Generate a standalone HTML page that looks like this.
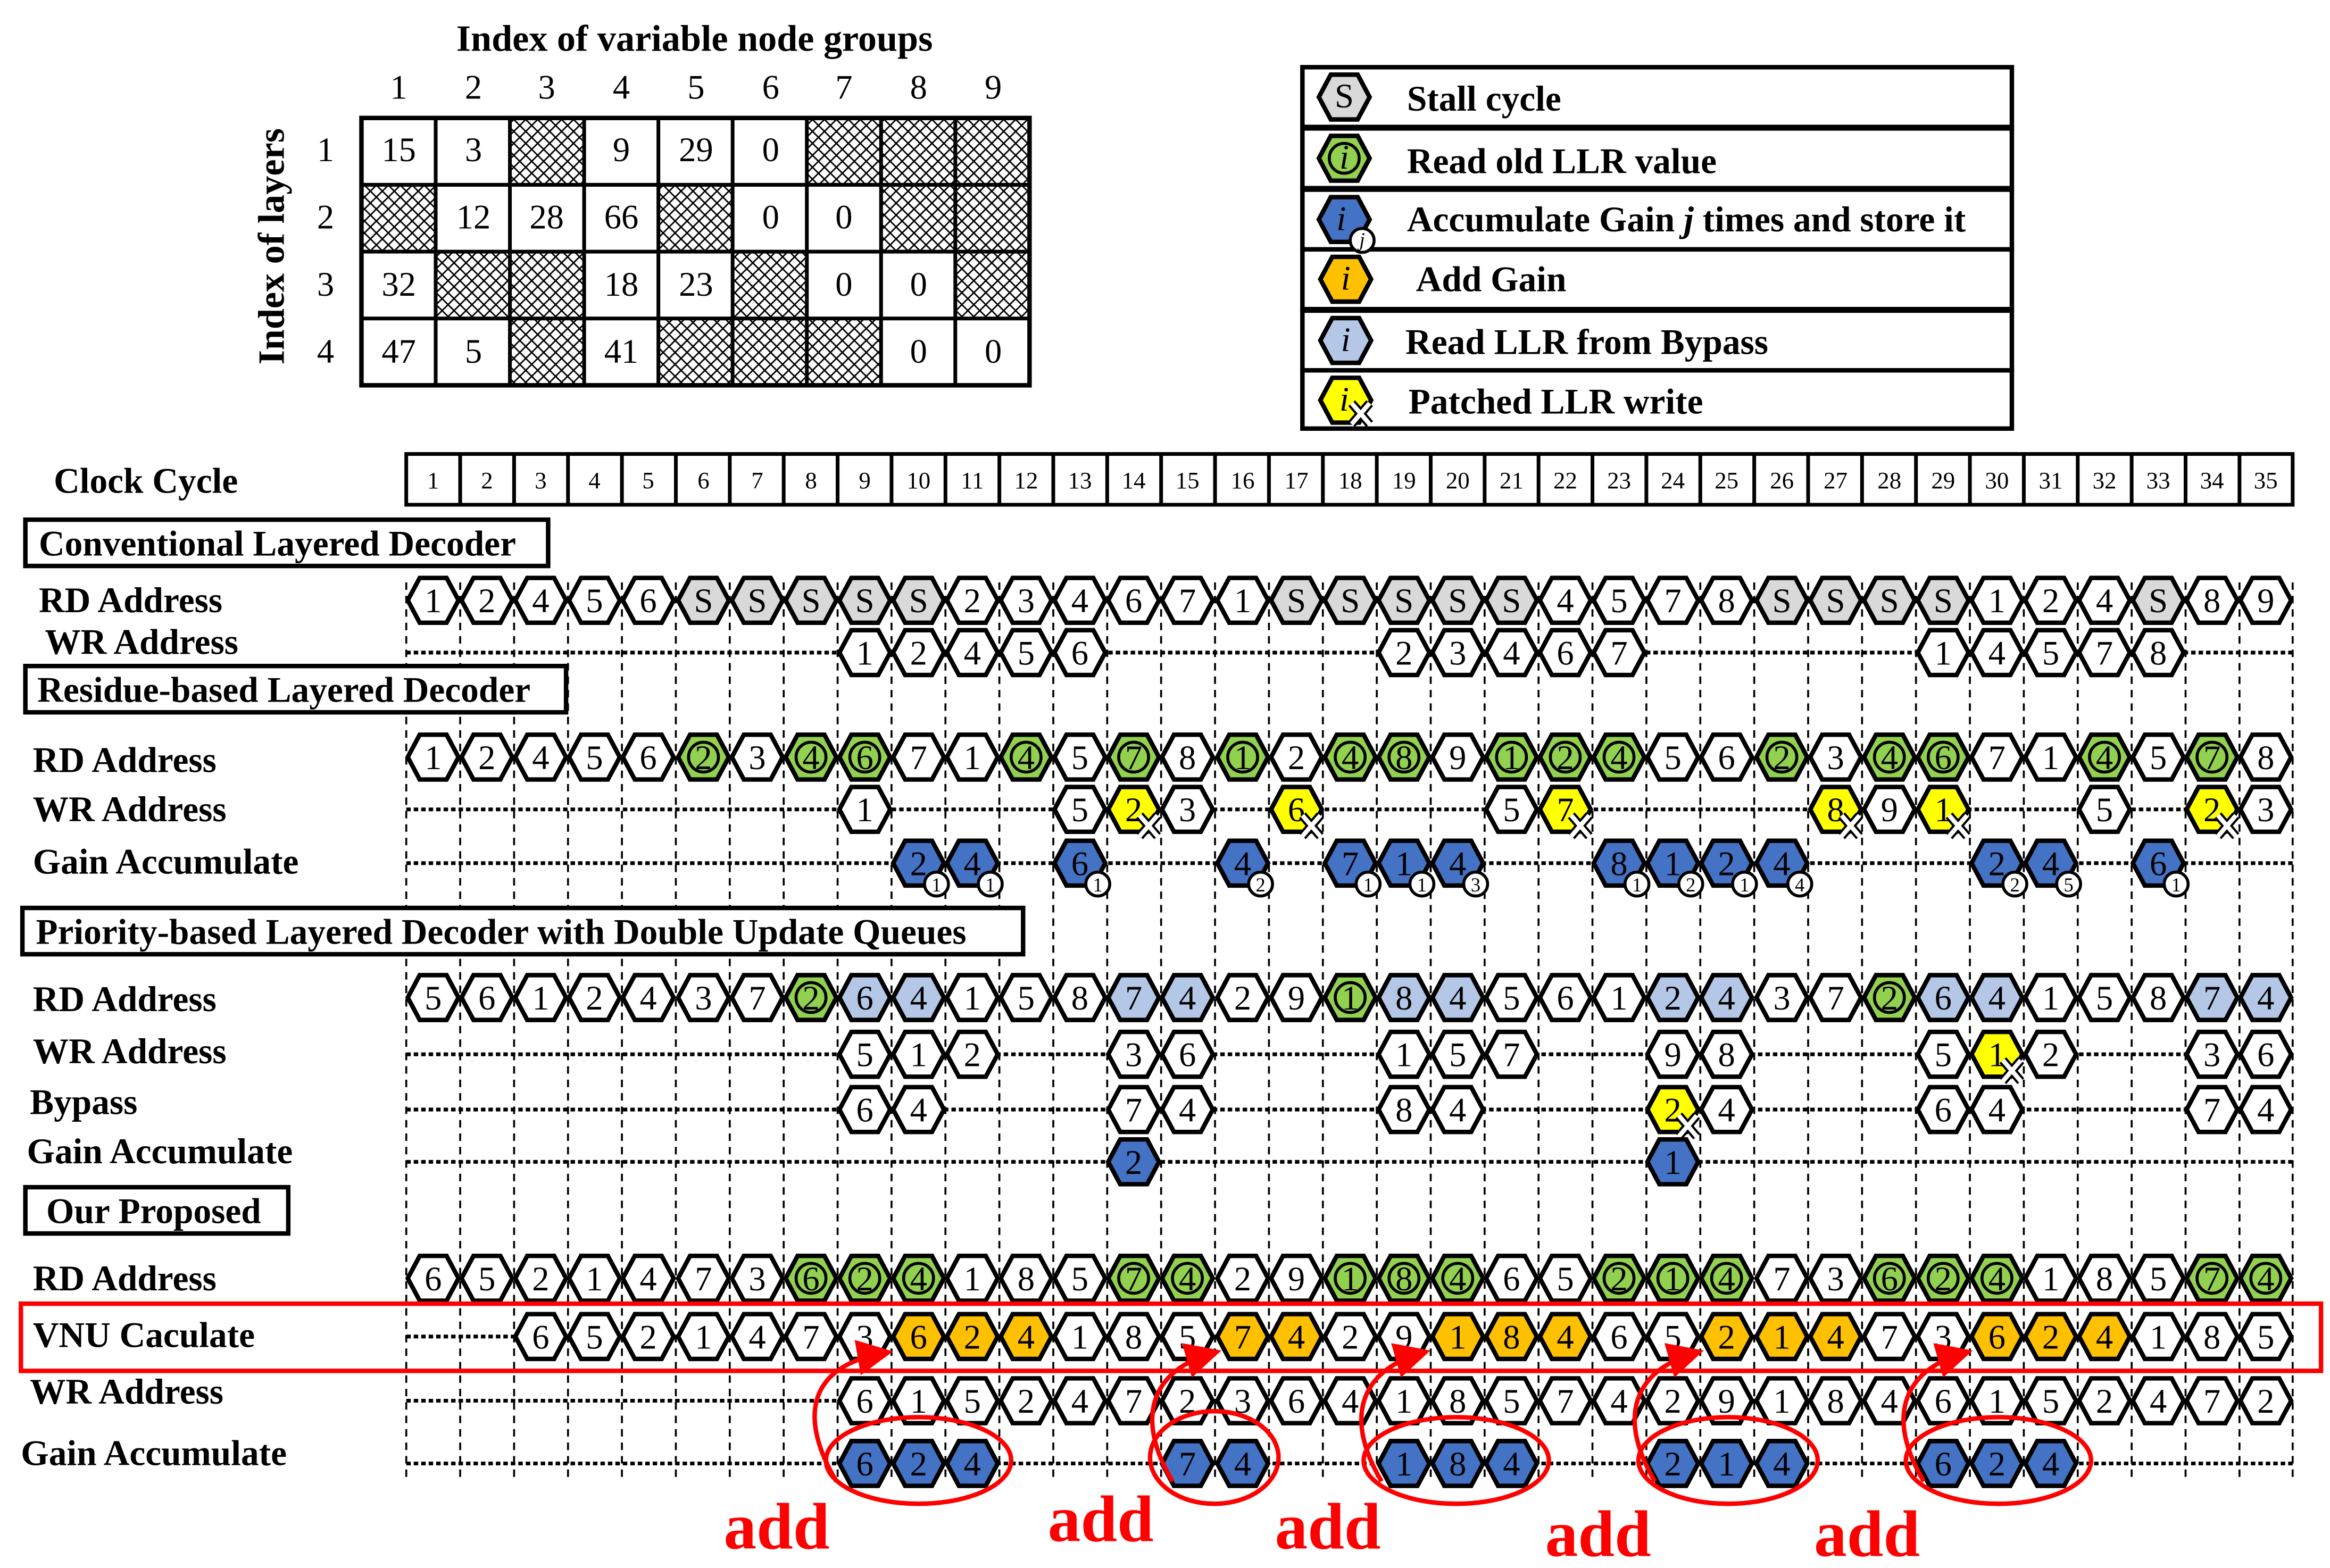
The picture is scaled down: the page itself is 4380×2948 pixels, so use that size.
<!DOCTYPE html>
<html><head><meta charset="utf-8"><style>
html,body{margin:0;padding:0;background:#fff}
svg{display:block}
.w{fill:#fff}.s{fill:#d9d9d9}.g{fill:#92d050}.b{fill:#4472c4}.o{fill:#ffc000}.l{fill:#b4c7e7}.y{fill:#ffff00}
text{font-family:"Liberation Serif",serif}
.n{font-size:23px;text-anchor:middle}
.lb{font-size:24px;font-weight:bold}
.sub{font-size:13px;text-anchor:middle}
</style></head><body>
<svg width="4380" height="2948" viewBox="0 0 1560 1050" preserveAspectRatio="none" xmlns="http://www.w3.org/2000/svg">
<defs>
<path id="hx" d="M-17,0 L-9,-15 L9,-15 L17,0 L9,15 L-9,15Z" stroke="#000" stroke-width="3"/>
<circle id="gc" cx="0" cy="0" r="10" fill="none" stroke="#000" stroke-width="2"/>
<circle id="sc" cx="12" cy="14" r="8" fill="#fff" stroke="#000" stroke-width="2"/>
<g id="px"><path d="M4,6 L16,20 M16,6 L4,20" stroke="#000" stroke-width="6"/><path d="M4,6 L16,20 M16,6 L4,20" stroke="#fff" stroke-width="3"/></g>
<pattern id="hatch" width="8" height="8" patternUnits="userSpaceOnUse"><rect width="8" height="8" fill="#fff"/><path d="M0,0 L8,8 M8,0 L0,8" stroke="#000" stroke-width="1"/></pattern>
<marker id="ar" markerWidth="8" markerHeight="8" refX="6" refY="4" orient="auto" markerUnits="strokeWidth"><path d="M0,0 L8,4 L0,8 Z" fill="#f00"/></marker>
</defs>
<rect width="1560" height="1050" fill="#fff"/>

<!-- Top table -->
<text x="465" y="34" font-size="25" font-weight="bold" text-anchor="middle">Index of variable node groups</text>
<text transform="translate(190,165) rotate(-90)" font-size="25" font-weight="bold" text-anchor="middle">Index of layers</text>
<g class="n">
<text x="267" y="66">1</text><text x="317" y="66">2</text><text x="366" y="66">3</text><text x="416" y="66">4</text><text x="466" y="66">5</text><text x="516" y="66">6</text><text x="565" y="66">7</text><text x="615" y="66">8</text><text x="665" y="66">9</text>
<text x="218" y="108">1</text><text x="218" y="153">2</text><text x="218" y="198">3</text><text x="218" y="243">4</text>
</g>
<g fill="url(#hatch)">
<rect x="341.4" y="79" width="49.7" height="44.75"/><rect x="540.2" y="79" width="49.7" height="44.75"/><rect x="589.9" y="79" width="49.7" height="44.75"/><rect x="639.6" y="79" width="49.7" height="44.75"/>
<rect x="242" y="123.75" width="49.7" height="44.75"/><rect x="441" y="123.75" width="49.7" height="44.75"/><rect x="589.9" y="123.75" width="49.7" height="44.75"/><rect x="639.6" y="123.75" width="49.7" height="44.75"/>
<rect x="291.7" y="168.5" width="49.7" height="44.75"/><rect x="341.4" y="168.5" width="49.7" height="44.75"/><rect x="490.5" y="168.5" width="49.7" height="44.75"/><rect x="639.6" y="168.5" width="49.7" height="44.75"/>
<rect x="341.4" y="213.25" width="49.7" height="44.75"/><rect x="441" y="213.25" width="49.7" height="44.75"/><rect x="490.5" y="213.25" width="49.7" height="44.75"/><rect x="540.2" y="213.25" width="49.7" height="44.75"/>
</g>
<g stroke="#000" stroke-width="2.5" fill="none">
<rect x="242" y="79" width="447.3" height="179" stroke-width="3"/>
<path d="M291.7,79V258M341.4,79V258M391.1,79V258M440.8,79V258M490.5,79V258M540.2,79V258M589.9,79V258M639.6,79V258M242,123.75H689.3M242,168.5H689.3M242,213.25H689.3"/>
</g>
<g class="n">
<text x="267" y="108">15</text><text x="317" y="108">3</text><text x="416" y="108">9</text><text x="466" y="108">29</text><text x="516" y="108">0</text>
<text x="317" y="153">12</text><text x="366" y="153">28</text><text x="416" y="153">66</text><text x="516" y="153">0</text><text x="565" y="153">0</text>
<text x="267" y="198">32</text><text x="416" y="198">18</text><text x="466" y="198">23</text><text x="565" y="198">0</text><text x="615" y="198">0</text>
<text x="267" y="243">47</text><text x="317" y="243">5</text><text x="416" y="243">41</text><text x="615" y="243">0</text><text x="665" y="243">0</text>
</g>

<!-- Legend -->
<g stroke="#000" stroke-width="3" fill="#fff">
<rect x="872" y="45" width="475" height="40"/><rect x="872" y="86" width="475" height="40"/><rect x="872" y="127" width="475" height="40"/><rect x="872" y="167" width="475" height="40"/><rect x="872" y="208" width="475" height="40"/><rect x="872" y="248" width="475" height="39"/>
</g>
<use href="#hx" x="900" y="65" class="s"/><text class="n" x="900" y="72">S</text>
<use href="#hx" x="900" y="106" class="g"/><use href="#gc" x="900" y="106"/><text class="n" x="900" y="113" font-style="italic">i</text>
<use href="#hx" x="900" y="147" class="b"/><text class="n" x="898" y="154" font-style="italic">i</text><use href="#sc" x="900" y="147"/><text class="sub" x="912" y="165" font-style="italic">j</text>
<use href="#hx" x="901" y="187" class="o"/><text class="n" x="901" y="194" font-style="italic">i</text>
<use href="#hx" x="901" y="228" class="l"/><text class="n" x="901" y="235" font-style="italic">i</text>
<use href="#hx" x="901" y="268" class="y"/><text class="n" x="900" y="275" font-style="italic">i</text><use href="#px" x="901" y="264"/>
<g class="lb">
<text x="942" y="74">Stall cycle</text>
<text x="942" y="116">Read old LLR value</text>
<text x="942" y="155">Accumulate Gain <tspan font-style="italic">j</tspan> times and store it</text>
<text x="948" y="195">Add Gain</text>
<text x="941" y="237">Read LLR from Bypass</text>
<text x="943" y="277">Patched LLR write</text>
</g>

<!-- Clock cycle header -->
<text class="lb" x="36" y="330">Clock Cycle</text>
<g stroke="#000" stroke-width="2.5" fill="#fff">
<rect x="272" y="304" width="1263" height="34"/>
<path d="M308.1,304V338M344.2,304V338M380.3,304V338M416.4,304V338M452.5,304V338M488.6,304V338M524.7,304V338M560.8,304V338M596.9,304V338M633,304V338M669.1,304V338M705.2,304V338M741.3,304V338M777.4,304V338M813.5,304V338M849.6,304V338M885.7,304V338M921.8,304V338M957.9,304V338M994,304V338M1030.1,304V338M1066.2,304V338M1102.3,304V338M1138.4,304V338M1174.5,304V338M1210.6,304V338M1246.7,304V338M1282.8,304V338M1318.9,304V338M1355,304V338M1391.1,304V338M1427.2,304V338M1463.3,304V338M1499.4,304V338"/>
</g>
<g class="n" style="font-size:16px">
<text x="290" y="327">1</text><text x="326" y="327">2</text><text x="362" y="327">3</text><text x="398" y="327">4</text><text x="434" y="327">5</text><text x="471" y="327">6</text><text x="507" y="327">7</text><text x="543" y="327">8</text><text x="579" y="327">9</text><text x="615" y="327">10</text><text x="651" y="327">11</text><text x="687" y="327">12</text><text x="723" y="327">13</text><text x="759" y="327">14</text><text x="795" y="327">15</text><text x="832" y="327">16</text><text x="868" y="327">17</text><text x="904" y="327">18</text><text x="940" y="327">19</text><text x="976" y="327">20</text><text x="1012" y="327">21</text><text x="1048" y="327">22</text><text x="1084" y="327">23</text><text x="1120" y="327">24</text><text x="1156" y="327">25</text><text x="1193" y="327">26</text><text x="1229" y="327">27</text><text x="1265" y="327">28</text><text x="1301" y="327">29</text><text x="1337" y="327">30</text><text x="1373" y="327">31</text><text x="1409" y="327">32</text><text x="1445" y="327">33</text><text x="1481" y="327">34</text><text x="1517" y="327">35</text>
</g>

<!-- Grid lines -->
<g stroke="#000" stroke-width="1.3" stroke-dasharray="5,4">
<path d="M272,390V990M308.1,390V990M344.2,390V990M380.3,390V990M416.4,390V990M452.5,390V990M488.6,390V990M524.7,390V990M560.8,390V990M596.9,390V990M633,390V990M669.1,390V990M705.2,390V990M741.3,390V990M777.4,390V990M813.5,390V990M849.6,390V990M885.7,390V990M921.8,390V990M957.9,390V990M994,390V990M1030.1,390V990M1066.2,390V990M1102.3,390V990M1138.4,390V990M1174.5,390V990M1210.6,390V990M1246.7,390V990M1282.8,390V990M1318.9,390V990M1355,390V990M1391.1,390V990M1427.2,390V990M1463.3,390V990M1499.4,390V990M1535,390V990"/>
</g>
<g stroke="#000" stroke-width="2.5" stroke-dasharray="3,2">
<path d="M272,437H1535M272,542H1535M272,578H1535M272,706H1535M272,743H1535M272,778H1535M272,895H1535M272,938H1535M272,980H1535"/>
</g>

<!-- Section titles -->
<g stroke="#000" stroke-width="3" fill="#fff">
<rect x="17" y="348" width="350" height="31"/>
<rect x="17" y="446" width="362" height="31"/>
<rect x="15" y="608" width="670" height="31"/>
<rect x="17" y="795" width="176" height="31"/>
</g>
<g class="lb">
<text x="26" y="372">Conventional Layered Decoder</text>
<text x="25" y="470">Residue-based Layered Decoder</text>
<text x="24" y="632">Priority-based Layered Decoder with Double Update Queues</text>
<text x="31" y="819">Our Proposed</text>
<text x="26" y="410">RD Address</text>
<text x="30" y="438">WR Address</text>
<text x="22" y="517">RD Address</text>
<text x="22" y="550">WR Address</text>
<text x="22" y="585">Gain Accumulate</text>
<text x="22" y="677">RD Address</text>
<text x="22" y="712">WR Address</text>
<text x="20" y="746">Bypass</text>
<text x="18" y="779">Gain Accumulate</text>
<text x="22" y="864">RD Address</text>
<text x="22" y="902">VNU Caculate</text>
<text x="20" y="940">WR Address</text>
<text x="14" y="981">Gain Accumulate</text>
</g>

<!-- Conventional RD -->
<g>
<use href="#hx" x="290" y="402" class="w"/><use href="#hx" x="326" y="402" class="w"/><use href="#hx" x="362" y="402" class="w"/><use href="#hx" x="398" y="402" class="w"/><use href="#hx" x="434" y="402" class="w"/><use href="#hx" x="471" y="402" class="s"/><use href="#hx" x="507" y="402" class="s"/><use href="#hx" x="543" y="402" class="s"/><use href="#hx" x="579" y="402" class="s"/><use href="#hx" x="615" y="402" class="s"/><use href="#hx" x="651" y="402" class="w"/><use href="#hx" x="687" y="402" class="w"/><use href="#hx" x="723" y="402" class="w"/><use href="#hx" x="759" y="402" class="w"/><use href="#hx" x="795" y="402" class="w"/><use href="#hx" x="832" y="402" class="w"/><use href="#hx" x="868" y="402" class="s"/><use href="#hx" x="904" y="402" class="s"/><use href="#hx" x="940" y="402" class="s"/><use href="#hx" x="976" y="402" class="s"/><use href="#hx" x="1012" y="402" class="s"/><use href="#hx" x="1048" y="402" class="w"/><use href="#hx" x="1084" y="402" class="w"/><use href="#hx" x="1120" y="402" class="w"/><use href="#hx" x="1156" y="402" class="w"/><use href="#hx" x="1193" y="402" class="s"/><use href="#hx" x="1229" y="402" class="s"/><use href="#hx" x="1265" y="402" class="s"/><use href="#hx" x="1301" y="402" class="s"/><use href="#hx" x="1337" y="402" class="w"/><use href="#hx" x="1373" y="402" class="w"/><use href="#hx" x="1409" y="402" class="w"/><use href="#hx" x="1445" y="402" class="s"/><use href="#hx" x="1481" y="402" class="w"/><use href="#hx" x="1517" y="402" class="w"/>
</g>
<g class="n">
<text x="290" y="410">1</text><text x="326" y="410">2</text><text x="362" y="410">4</text><text x="398" y="410">5</text><text x="434" y="410">6</text><text x="471" y="410">S</text><text x="507" y="410">S</text><text x="543" y="410">S</text><text x="579" y="410">S</text><text x="615" y="410">S</text><text x="651" y="410">2</text><text x="687" y="410">3</text><text x="723" y="410">4</text><text x="759" y="410">6</text><text x="795" y="410">7</text><text x="832" y="410">1</text><text x="868" y="410">S</text><text x="904" y="410">S</text><text x="940" y="410">S</text><text x="976" y="410">S</text><text x="1012" y="410">S</text><text x="1048" y="410">4</text><text x="1084" y="410">5</text><text x="1120" y="410">7</text><text x="1156" y="410">8</text><text x="1193" y="410">S</text><text x="1229" y="410">S</text><text x="1265" y="410">S</text><text x="1301" y="410">S</text><text x="1337" y="410">1</text><text x="1373" y="410">2</text><text x="1409" y="410">4</text><text x="1445" y="410">S</text><text x="1481" y="410">8</text><text x="1517" y="410">9</text>
</g>
<!-- Conventional WR -->
<g>
<use href="#hx" x="579" y="437" class="w"/><use href="#hx" x="615" y="437" class="w"/><use href="#hx" x="651" y="437" class="w"/><use href="#hx" x="687" y="437" class="w"/><use href="#hx" x="723" y="437" class="w"/>
<use href="#hx" x="940" y="437" class="w"/><use href="#hx" x="976" y="437" class="w"/><use href="#hx" x="1012" y="437" class="w"/><use href="#hx" x="1048" y="437" class="w"/><use href="#hx" x="1084" y="437" class="w"/>
<use href="#hx" x="1301" y="437" class="w"/><use href="#hx" x="1337" y="437" class="w"/><use href="#hx" x="1373" y="437" class="w"/><use href="#hx" x="1409" y="437" class="w"/><use href="#hx" x="1445" y="437" class="w"/>
</g>
<g class="n">
<text x="579" y="445">1</text><text x="615" y="445">2</text><text x="651" y="445">4</text><text x="687" y="445">5</text><text x="723" y="445">6</text>
<text x="940" y="445">2</text><text x="976" y="445">3</text><text x="1012" y="445">4</text><text x="1048" y="445">6</text><text x="1084" y="445">7</text>
<text x="1301" y="445">1</text><text x="1337" y="445">4</text><text x="1373" y="445">5</text><text x="1409" y="445">7</text><text x="1445" y="445">8</text>
</g>

<!-- Residue RD -->
<g>
<use href="#hx" x="290" y="507" class="w"/><use href="#hx" x="326" y="507" class="w"/><use href="#hx" x="362" y="507" class="w"/><use href="#hx" x="398" y="507" class="w"/><use href="#hx" x="434" y="507" class="w"/><use href="#hx" x="471" y="507" class="g"/><use href="#hx" x="507" y="507" class="w"/><use href="#hx" x="543" y="507" class="g"/><use href="#hx" x="579" y="507" class="g"/><use href="#hx" x="615" y="507" class="w"/><use href="#hx" x="651" y="507" class="w"/><use href="#hx" x="687" y="507" class="g"/><use href="#hx" x="723" y="507" class="w"/><use href="#hx" x="759" y="507" class="g"/><use href="#hx" x="795" y="507" class="w"/><use href="#hx" x="832" y="507" class="g"/><use href="#hx" x="868" y="507" class="w"/><use href="#hx" x="904" y="507" class="g"/><use href="#hx" x="940" y="507" class="g"/><use href="#hx" x="976" y="507" class="w"/><use href="#hx" x="1012" y="507" class="g"/><use href="#hx" x="1048" y="507" class="g"/><use href="#hx" x="1084" y="507" class="g"/><use href="#hx" x="1120" y="507" class="w"/><use href="#hx" x="1156" y="507" class="w"/><use href="#hx" x="1193" y="507" class="g"/><use href="#hx" x="1229" y="507" class="w"/><use href="#hx" x="1265" y="507" class="g"/><use href="#hx" x="1301" y="507" class="g"/><use href="#hx" x="1337" y="507" class="w"/><use href="#hx" x="1373" y="507" class="w"/><use href="#hx" x="1409" y="507" class="g"/><use href="#hx" x="1445" y="507" class="w"/><use href="#hx" x="1481" y="507" class="g"/><use href="#hx" x="1517" y="507" class="w"/>
<use href="#gc" x="471" y="507"/><use href="#gc" x="543" y="507"/><use href="#gc" x="579" y="507"/><use href="#gc" x="687" y="507"/><use href="#gc" x="759" y="507"/><use href="#gc" x="832" y="507"/><use href="#gc" x="904" y="507"/><use href="#gc" x="940" y="507"/><use href="#gc" x="1012" y="507"/><use href="#gc" x="1048" y="507"/><use href="#gc" x="1084" y="507"/><use href="#gc" x="1193" y="507"/><use href="#gc" x="1265" y="507"/><use href="#gc" x="1301" y="507"/><use href="#gc" x="1409" y="507"/><use href="#gc" x="1481" y="507"/>
</g>
<g class="n">
<text x="290" y="515">1</text><text x="326" y="515">2</text><text x="362" y="515">4</text><text x="398" y="515">5</text><text x="434" y="515">6</text><text x="471" y="515">2</text><text x="507" y="515">3</text><text x="543" y="515">4</text><text x="579" y="515">6</text><text x="615" y="515">7</text><text x="651" y="515">1</text><text x="687" y="515">4</text><text x="723" y="515">5</text><text x="759" y="515">7</text><text x="795" y="515">8</text><text x="832" y="515">1</text><text x="868" y="515">2</text><text x="904" y="515">4</text><text x="940" y="515">8</text><text x="976" y="515">9</text><text x="1012" y="515">1</text><text x="1048" y="515">2</text><text x="1084" y="515">4</text><text x="1120" y="515">5</text><text x="1156" y="515">6</text><text x="1193" y="515">2</text><text x="1229" y="515">3</text><text x="1265" y="515">4</text><text x="1301" y="515">6</text><text x="1337" y="515">7</text><text x="1373" y="515">1</text><text x="1409" y="515">4</text><text x="1445" y="515">5</text><text x="1481" y="515">7</text><text x="1517" y="515">8</text>
</g>
<!-- Residue WR -->
<g>
<use href="#hx" x="579" y="542" class="w"/><use href="#hx" x="723" y="542" class="w"/><use href="#hx" x="759" y="542" class="y"/><use href="#hx" x="795" y="542" class="w"/><use href="#hx" x="868" y="542" class="y"/><use href="#hx" x="1012" y="542" class="w"/><use href="#hx" x="1048" y="542" class="y"/><use href="#hx" x="1229" y="542" class="y"/><use href="#hx" x="1265" y="542" class="w"/><use href="#hx" x="1301" y="542" class="y"/><use href="#hx" x="1409" y="542" class="w"/><use href="#hx" x="1481" y="542" class="y"/><use href="#hx" x="1517" y="542" class="w"/>
</g>
<g class="n">
<text x="579" y="550">1</text><text x="723" y="550">5</text><text x="759" y="550">2</text><text x="795" y="550">3</text><text x="868" y="550">6</text><text x="1012" y="550">5</text><text x="1048" y="550">7</text><text x="1229" y="550">8</text><text x="1265" y="550">9</text><text x="1301" y="550">1</text><text x="1409" y="550">5</text><text x="1481" y="550">2</text><text x="1517" y="550">3</text>
</g>
<use href="#px" x="759" y="540"/><use href="#px" x="868" y="540"/><use href="#px" x="1048" y="540"/><use href="#px" x="1229" y="540"/><use href="#px" x="1301" y="540"/><use href="#px" x="1481" y="540"/>
<!-- Residue Gain -->
<g>
<use href="#hx" x="615" y="578" class="b"/><use href="#hx" x="651" y="578" class="b"/><use href="#hx" x="723" y="578" class="b"/><use href="#hx" x="832" y="578" class="b"/><use href="#hx" x="904" y="578" class="b"/><use href="#hx" x="940" y="578" class="b"/><use href="#hx" x="976" y="578" class="b"/><use href="#hx" x="1084" y="578" class="b"/><use href="#hx" x="1120" y="578" class="b"/><use href="#hx" x="1156" y="578" class="b"/><use href="#hx" x="1193" y="578" class="b"/><use href="#hx" x="1337" y="578" class="b"/><use href="#hx" x="1373" y="578" class="b"/><use href="#hx" x="1445" y="578" class="b"/>
</g>
<g class="n">
<text x="615" y="586">2</text><text x="651" y="586">4</text><text x="723" y="586">6</text><text x="832" y="586">4</text><text x="904" y="586">7</text><text x="940" y="586">1</text><text x="976" y="586">4</text><text x="1084" y="586">8</text><text x="1120" y="586">1</text><text x="1156" y="586">2</text><text x="1193" y="586">4</text><text x="1337" y="586">2</text><text x="1373" y="586">4</text><text x="1445" y="586">6</text>
</g>
<g>
<use href="#sc" x="615" y="578"/><use href="#sc" x="651" y="578"/><use href="#sc" x="723" y="578"/><use href="#sc" x="832" y="578"/><use href="#sc" x="904" y="578"/><use href="#sc" x="940" y="578"/><use href="#sc" x="976" y="578"/><use href="#sc" x="1084" y="578"/><use href="#sc" x="1120" y="578"/><use href="#sc" x="1156" y="578"/><use href="#sc" x="1193" y="578"/><use href="#sc" x="1337" y="578"/><use href="#sc" x="1373" y="578"/><use href="#sc" x="1445" y="578"/>
</g>
<g class="sub">
<text x="627" y="597">1</text><text x="663" y="597">1</text><text x="735" y="597">1</text><text x="844" y="597">2</text><text x="916" y="597">1</text><text x="952" y="597">1</text><text x="988" y="597">3</text><text x="1096" y="597">1</text><text x="1132" y="597">2</text><text x="1168" y="597">1</text><text x="1205" y="597">4</text><text x="1349" y="597">2</text><text x="1385" y="597">5</text><text x="1457" y="597">1</text>
</g>

<!-- Priority RD -->
<g>
<use href="#hx" x="290" y="668" class="w"/><use href="#hx" x="326" y="668" class="w"/><use href="#hx" x="362" y="668" class="w"/><use href="#hx" x="398" y="668" class="w"/><use href="#hx" x="434" y="668" class="w"/><use href="#hx" x="471" y="668" class="w"/><use href="#hx" x="507" y="668" class="w"/><use href="#hx" x="543" y="668" class="g"/><use href="#hx" x="579" y="668" class="l"/><use href="#hx" x="615" y="668" class="l"/><use href="#hx" x="651" y="668" class="w"/><use href="#hx" x="687" y="668" class="w"/><use href="#hx" x="723" y="668" class="w"/><use href="#hx" x="759" y="668" class="l"/><use href="#hx" x="795" y="668" class="l"/><use href="#hx" x="832" y="668" class="w"/><use href="#hx" x="868" y="668" class="w"/><use href="#hx" x="904" y="668" class="g"/><use href="#hx" x="940" y="668" class="l"/><use href="#hx" x="976" y="668" class="l"/><use href="#hx" x="1012" y="668" class="w"/><use href="#hx" x="1048" y="668" class="w"/><use href="#hx" x="1084" y="668" class="w"/><use href="#hx" x="1120" y="668" class="l"/><use href="#hx" x="1156" y="668" class="l"/><use href="#hx" x="1193" y="668" class="w"/><use href="#hx" x="1229" y="668" class="w"/><use href="#hx" x="1265" y="668" class="g"/><use href="#hx" x="1301" y="668" class="l"/><use href="#hx" x="1337" y="668" class="l"/><use href="#hx" x="1373" y="668" class="w"/><use href="#hx" x="1409" y="668" class="w"/><use href="#hx" x="1445" y="668" class="w"/><use href="#hx" x="1481" y="668" class="l"/><use href="#hx" x="1517" y="668" class="l"/>
<use href="#gc" x="543" y="668"/><use href="#gc" x="904" y="668"/><use href="#gc" x="1265" y="668"/>
</g>
<g class="n">
<text x="290" y="676">5</text><text x="326" y="676">6</text><text x="362" y="676">1</text><text x="398" y="676">2</text><text x="434" y="676">4</text><text x="471" y="676">3</text><text x="507" y="676">7</text><text x="543" y="676">2</text><text x="579" y="676">6</text><text x="615" y="676">4</text><text x="651" y="676">1</text><text x="687" y="676">5</text><text x="723" y="676">8</text><text x="759" y="676">7</text><text x="795" y="676">4</text><text x="832" y="676">2</text><text x="868" y="676">9</text><text x="904" y="676">1</text><text x="940" y="676">8</text><text x="976" y="676">4</text><text x="1012" y="676">5</text><text x="1048" y="676">6</text><text x="1084" y="676">1</text><text x="1120" y="676">2</text><text x="1156" y="676">4</text><text x="1193" y="676">3</text><text x="1229" y="676">7</text><text x="1265" y="676">2</text><text x="1301" y="676">6</text><text x="1337" y="676">4</text><text x="1373" y="676">1</text><text x="1409" y="676">5</text><text x="1445" y="676">8</text><text x="1481" y="676">7</text><text x="1517" y="676">4</text>
</g>
<!-- Priority WR -->
<g>
<use href="#hx" x="579" y="706" class="w"/><use href="#hx" x="615" y="706" class="w"/><use href="#hx" x="651" y="706" class="w"/><use href="#hx" x="759" y="706" class="w"/><use href="#hx" x="795" y="706" class="w"/><use href="#hx" x="940" y="706" class="w"/><use href="#hx" x="976" y="706" class="w"/><use href="#hx" x="1012" y="706" class="w"/><use href="#hx" x="1120" y="706" class="w"/><use href="#hx" x="1156" y="706" class="w"/><use href="#hx" x="1301" y="706" class="w"/><use href="#hx" x="1337" y="706" class="y"/><use href="#hx" x="1373" y="706" class="w"/><use href="#hx" x="1481" y="706" class="w"/><use href="#hx" x="1517" y="706" class="w"/>
</g>
<g class="n">
<text x="579" y="714">5</text><text x="615" y="714">1</text><text x="651" y="714">2</text><text x="759" y="714">3</text><text x="795" y="714">6</text><text x="940" y="714">1</text><text x="976" y="714">5</text><text x="1012" y="714">7</text><text x="1120" y="714">9</text><text x="1156" y="714">8</text><text x="1301" y="714">5</text><text x="1337" y="714">1</text><text x="1373" y="714">2</text><text x="1481" y="714">3</text><text x="1517" y="714">6</text>
</g>
<use href="#px" x="1337" y="704"/>
<!-- Bypass -->
<g>
<use href="#hx" x="579" y="743" class="w"/><use href="#hx" x="615" y="743" class="w"/><use href="#hx" x="759" y="743" class="w"/><use href="#hx" x="795" y="743" class="w"/><use href="#hx" x="940" y="743" class="w"/><use href="#hx" x="976" y="743" class="w"/><use href="#hx" x="1120" y="743" class="y"/><use href="#hx" x="1156" y="743" class="w"/><use href="#hx" x="1301" y="743" class="w"/><use href="#hx" x="1337" y="743" class="w"/><use href="#hx" x="1481" y="743" class="w"/><use href="#hx" x="1517" y="743" class="w"/>
</g>
<g class="n">
<text x="579" y="751">6</text><text x="615" y="751">4</text><text x="759" y="751">7</text><text x="795" y="751">4</text><text x="940" y="751">8</text><text x="976" y="751">4</text><text x="1120" y="751">2</text><text x="1156" y="751">4</text><text x="1301" y="751">6</text><text x="1337" y="751">4</text><text x="1481" y="751">7</text><text x="1517" y="751">4</text>
</g>
<use href="#px" x="1120" y="741"/>
<!-- Priority Gain -->
<use href="#hx" x="759" y="778" class="b"/><use href="#hx" x="1120" y="778" class="b"/>
<g class="n"><text x="759" y="786">2</text><text x="1120" y="786">1</text></g>

<!-- Proposed RD -->
<g>
<use href="#hx" x="290" y="856" class="w"/><use href="#hx" x="326" y="856" class="w"/><use href="#hx" x="362" y="856" class="w"/><use href="#hx" x="398" y="856" class="w"/><use href="#hx" x="434" y="856" class="w"/><use href="#hx" x="471" y="856" class="w"/><use href="#hx" x="507" y="856" class="w"/><use href="#hx" x="543" y="856" class="g"/><use href="#hx" x="579" y="856" class="g"/><use href="#hx" x="615" y="856" class="g"/><use href="#hx" x="651" y="856" class="w"/><use href="#hx" x="687" y="856" class="w"/><use href="#hx" x="723" y="856" class="w"/><use href="#hx" x="759" y="856" class="g"/><use href="#hx" x="795" y="856" class="g"/><use href="#hx" x="832" y="856" class="w"/><use href="#hx" x="868" y="856" class="w"/><use href="#hx" x="904" y="856" class="g"/><use href="#hx" x="940" y="856" class="g"/><use href="#hx" x="976" y="856" class="g"/><use href="#hx" x="1012" y="856" class="w"/><use href="#hx" x="1048" y="856" class="w"/><use href="#hx" x="1084" y="856" class="g"/><use href="#hx" x="1120" y="856" class="g"/><use href="#hx" x="1156" y="856" class="g"/><use href="#hx" x="1193" y="856" class="w"/><use href="#hx" x="1229" y="856" class="w"/><use href="#hx" x="1265" y="856" class="g"/><use href="#hx" x="1301" y="856" class="g"/><use href="#hx" x="1337" y="856" class="g"/><use href="#hx" x="1373" y="856" class="w"/><use href="#hx" x="1409" y="856" class="w"/><use href="#hx" x="1445" y="856" class="w"/><use href="#hx" x="1481" y="856" class="g"/><use href="#hx" x="1517" y="856" class="g"/>
<use href="#gc" x="543" y="856"/><use href="#gc" x="579" y="856"/><use href="#gc" x="615" y="856"/><use href="#gc" x="759" y="856"/><use href="#gc" x="795" y="856"/><use href="#gc" x="904" y="856"/><use href="#gc" x="940" y="856"/><use href="#gc" x="976" y="856"/><use href="#gc" x="1084" y="856"/><use href="#gc" x="1120" y="856"/><use href="#gc" x="1156" y="856"/><use href="#gc" x="1265" y="856"/><use href="#gc" x="1301" y="856"/><use href="#gc" x="1337" y="856"/><use href="#gc" x="1481" y="856"/><use href="#gc" x="1517" y="856"/>
</g>
<g class="n">
<text x="290" y="864">6</text><text x="326" y="864">5</text><text x="362" y="864">2</text><text x="398" y="864">1</text><text x="434" y="864">4</text><text x="471" y="864">7</text><text x="507" y="864">3</text><text x="543" y="864">6</text><text x="579" y="864">2</text><text x="615" y="864">4</text><text x="651" y="864">1</text><text x="687" y="864">8</text><text x="723" y="864">5</text><text x="759" y="864">7</text><text x="795" y="864">4</text><text x="832" y="864">2</text><text x="868" y="864">9</text><text x="904" y="864">1</text><text x="940" y="864">8</text><text x="976" y="864">4</text><text x="1012" y="864">6</text><text x="1048" y="864">5</text><text x="1084" y="864">2</text><text x="1120" y="864">1</text><text x="1156" y="864">4</text><text x="1193" y="864">7</text><text x="1229" y="864">3</text><text x="1265" y="864">6</text><text x="1301" y="864">2</text><text x="1337" y="864">4</text><text x="1373" y="864">1</text><text x="1409" y="864">8</text><text x="1445" y="864">5</text><text x="1481" y="864">7</text><text x="1517" y="864">4</text>
</g>
<!-- VNU -->
<g>
<use href="#hx" x="362" y="895" class="w"/><use href="#hx" x="398" y="895" class="w"/><use href="#hx" x="434" y="895" class="w"/><use href="#hx" x="471" y="895" class="w"/><use href="#hx" x="507" y="895" class="w"/><use href="#hx" x="543" y="895" class="w"/><use href="#hx" x="579" y="895" class="w"/><use href="#hx" x="615" y="895" class="o"/><use href="#hx" x="651" y="895" class="o"/><use href="#hx" x="687" y="895" class="o"/><use href="#hx" x="723" y="895" class="w"/><use href="#hx" x="759" y="895" class="w"/><use href="#hx" x="795" y="895" class="w"/><use href="#hx" x="832" y="895" class="o"/><use href="#hx" x="868" y="895" class="o"/><use href="#hx" x="904" y="895" class="w"/><use href="#hx" x="940" y="895" class="w"/><use href="#hx" x="976" y="895" class="o"/><use href="#hx" x="1012" y="895" class="o"/><use href="#hx" x="1048" y="895" class="o"/><use href="#hx" x="1084" y="895" class="w"/><use href="#hx" x="1120" y="895" class="w"/><use href="#hx" x="1156" y="895" class="o"/><use href="#hx" x="1193" y="895" class="o"/><use href="#hx" x="1229" y="895" class="o"/><use href="#hx" x="1265" y="895" class="w"/><use href="#hx" x="1301" y="895" class="w"/><use href="#hx" x="1337" y="895" class="o"/><use href="#hx" x="1373" y="895" class="o"/><use href="#hx" x="1409" y="895" class="o"/><use href="#hx" x="1445" y="895" class="w"/><use href="#hx" x="1481" y="895" class="w"/><use href="#hx" x="1517" y="895" class="w"/>
</g>
<g class="n">
<text x="362" y="903">6</text><text x="398" y="903">5</text><text x="434" y="903">2</text><text x="471" y="903">1</text><text x="507" y="903">4</text><text x="543" y="903">7</text><text x="579" y="903">3</text><text x="615" y="903">6</text><text x="651" y="903">2</text><text x="687" y="903">4</text><text x="723" y="903">1</text><text x="759" y="903">8</text><text x="795" y="903">5</text><text x="832" y="903">7</text><text x="868" y="903">4</text><text x="904" y="903">2</text><text x="940" y="903">9</text><text x="976" y="903">1</text><text x="1012" y="903">8</text><text x="1048" y="903">4</text><text x="1084" y="903">6</text><text x="1120" y="903">5</text><text x="1156" y="903">2</text><text x="1193" y="903">1</text><text x="1229" y="903">4</text><text x="1265" y="903">7</text><text x="1301" y="903">3</text><text x="1337" y="903">6</text><text x="1373" y="903">2</text><text x="1409" y="903">4</text><text x="1445" y="903">1</text><text x="1481" y="903">8</text><text x="1517" y="903">5</text>
</g>
<!-- Proposed WR -->
<g>
<use href="#hx" x="579" y="938" class="w"/><use href="#hx" x="615" y="938" class="w"/><use href="#hx" x="651" y="938" class="w"/><use href="#hx" x="687" y="938" class="w"/><use href="#hx" x="723" y="938" class="w"/><use href="#hx" x="759" y="938" class="w"/><use href="#hx" x="795" y="938" class="w"/><use href="#hx" x="832" y="938" class="w"/><use href="#hx" x="868" y="938" class="w"/><use href="#hx" x="904" y="938" class="w"/><use href="#hx" x="940" y="938" class="w"/><use href="#hx" x="976" y="938" class="w"/><use href="#hx" x="1012" y="938" class="w"/><use href="#hx" x="1048" y="938" class="w"/><use href="#hx" x="1084" y="938" class="w"/><use href="#hx" x="1120" y="938" class="w"/><use href="#hx" x="1156" y="938" class="w"/><use href="#hx" x="1193" y="938" class="w"/><use href="#hx" x="1229" y="938" class="w"/><use href="#hx" x="1265" y="938" class="w"/><use href="#hx" x="1301" y="938" class="w"/><use href="#hx" x="1337" y="938" class="w"/><use href="#hx" x="1373" y="938" class="w"/><use href="#hx" x="1409" y="938" class="w"/><use href="#hx" x="1445" y="938" class="w"/><use href="#hx" x="1481" y="938" class="w"/><use href="#hx" x="1517" y="938" class="w"/>
</g>
<g class="n">
<text x="579" y="946">6</text><text x="615" y="946">1</text><text x="651" y="946">5</text><text x="687" y="946">2</text><text x="723" y="946">4</text><text x="759" y="946">7</text><text x="795" y="946">2</text><text x="832" y="946">3</text><text x="868" y="946">6</text><text x="904" y="946">4</text><text x="940" y="946">1</text><text x="976" y="946">8</text><text x="1012" y="946">5</text><text x="1048" y="946">7</text><text x="1084" y="946">4</text><text x="1120" y="946">2</text><text x="1156" y="946">9</text><text x="1193" y="946">1</text><text x="1229" y="946">8</text><text x="1265" y="946">4</text><text x="1301" y="946">6</text><text x="1337" y="946">1</text><text x="1373" y="946">5</text><text x="1409" y="946">2</text><text x="1445" y="946">4</text><text x="1481" y="946">7</text><text x="1517" y="946">2</text>
</g>
<!-- Proposed Gain -->
<g>
<use href="#hx" x="579" y="980" class="b"/><use href="#hx" x="615" y="980" class="b"/><use href="#hx" x="651" y="980" class="b"/><use href="#hx" x="795" y="980" class="b"/><use href="#hx" x="832" y="980" class="b"/><use href="#hx" x="940" y="980" class="b"/><use href="#hx" x="976" y="980" class="b"/><use href="#hx" x="1012" y="980" class="b"/><use href="#hx" x="1120" y="980" class="b"/><use href="#hx" x="1156" y="980" class="b"/><use href="#hx" x="1193" y="980" class="b"/><use href="#hx" x="1301" y="980" class="b"/><use href="#hx" x="1337" y="980" class="b"/><use href="#hx" x="1373" y="980" class="b"/>
</g>
<g class="n">
<text x="579" y="988">6</text><text x="615" y="988">2</text><text x="651" y="988">4</text><text x="795" y="988">7</text><text x="832" y="988">4</text><text x="940" y="988">1</text><text x="976" y="988">8</text><text x="1012" y="988">4</text><text x="1120" y="988">2</text><text x="1156" y="988">1</text><text x="1193" y="988">4</text><text x="1301" y="988">6</text><text x="1337" y="988">2</text><text x="1373" y="988">4</text>
</g>

<!-- Red annotations -->
<rect x="14" y="873" width="1540" height="45" fill="none" stroke="#f00" stroke-width="3"/>
<g fill="none" stroke="#f00" stroke-width="3">
<ellipse cx="615" cy="978" rx="62" ry="29"/>
<ellipse cx="813" cy="976" rx="43" ry="31"/>
<ellipse cx="975" cy="978" rx="62" ry="29"/>
<ellipse cx="1157" cy="978" rx="60" ry="29"/>
<ellipse cx="1338" cy="978" rx="62" ry="29"/>
<path d="M560,992 C535,950 540,915 592,906" marker-end="url(#ar)"/>
<path d="M785,992 C760,950 770,918 812,906" marker-end="url(#ar)"/>
<path d="M925,992 C900,950 910,918 952,906" marker-end="url(#ar)"/>
<path d="M1108,992 C1083,950 1093,918 1135,906" marker-end="url(#ar)"/>
<path d="M1288,992 C1263,950 1273,918 1315,906" marker-end="url(#ar)"/>
</g>
<g fill="#f00" font-size="44" font-weight="bold" text-anchor="middle">
<text x="520" y="1037">add</text>
<text x="737" y="1032">add</text>
<text x="889" y="1037">add</text>
<text x="1070" y="1042">add</text>
<text x="1250" y="1042">add</text>
</g>
</svg>
</body></html>
